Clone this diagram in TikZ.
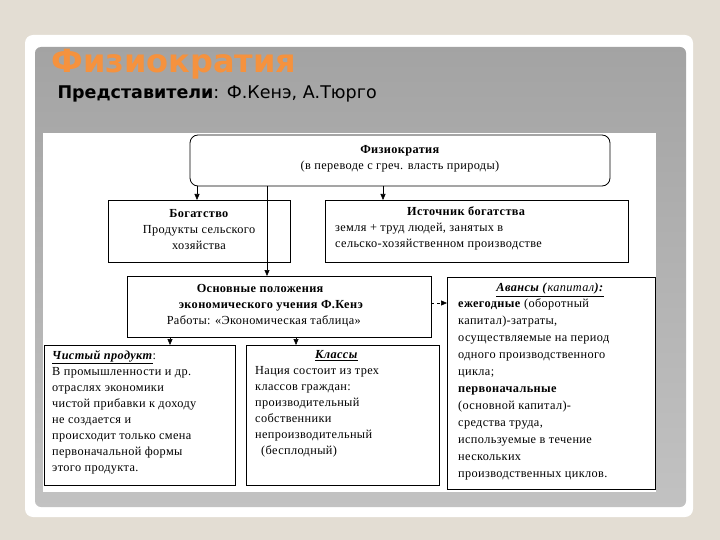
\documentclass[tikz,border=0pt]{standalone}
\usepackage{fontspec}
\setmainfont{Liberation Serif}[LetterSpace=3]
\newfontfamily\ttl{DejaVu Sans}
\usetikzlibrary{arrows.meta}
\definecolor{bg}{HTML}{E3DDD3}
\definecolor{org}{HTML}{F5923E}
\begin{document}
\begin{tikzpicture}[x=1pt,y=-1pt,
  box/.style={draw=black,line width=0.8pt,fill=white,inner sep=0pt},
  arr/.style={-{Triangle[length=6pt,width=5pt]},line width=0.6pt},
  txt/.style={font=\fontsize{12.3}{16}\selectfont,align=left,anchor=north west,inner sep=0pt}]
\useasboundingbox (0,0) rectangle (720,540);
\fill[bg] (0,0) rectangle (720,540);
\fill[white,rounded corners=8pt] (25,35) rectangle (693,517);
\shade[top color=black!36,bottom color=black!24,rounded corners=6pt] (35,47) rectangle (686,507);
\fill[white] (43,133) rectangle (656,492);
\node[font=\ttl\bfseries\fontsize{32}{34}\selectfont,text=org,anchor=west] (t) at (48,64) {Физиократия};
\node[font=\ttl\fontsize{17.5}{20}\selectfont,anchor=west] (r) at (54,94) {\textbf{Представители}: Ф.Кенэ, А.Тюрго};
% boxes
\draw[box,rounded corners=8pt] (190,135) rectangle (610,186);
\node[font=\fontsize{12.3}{16}\selectfont,align=center] (f) at (400,159) {\textbf{Физиократия}\\(в переводе с греч. власть природы)};
\coordinate (fa) at (197,186); \coordinate (fb) at (383,186); \coordinate (fc) at (267,186);
\draw[box] (108,200) rectangle (290,262);
\node[font=\fontsize{12.3}{16}\selectfont,align=center] (b) at (199,230) {\textbf{Богатство}\\Продукты сельского\\хозяйства};
\coordinate (ba) at (197,200);
\draw[box] (325,200) rectangle (628,262);
\node[txt] (i) at (335,206) {\hspace*{72pt}\textbf{Источник богатства}\\земля + труд людей, занятых в\\сельско-хозяйственном производстве};
\coordinate (ia) at (383,200);
\draw[box] (127,276) rectangle (431,337);
\node[font=\fontsize{12.3}{16}\selectfont,align=left] (o) at (265,306) {\hspace*{30pt}\textbf{Основные положения}\\\hspace*{12pt}\textbf{экономического учения Ф.Кенэ}\\Работы: «Экономическая таблица»};
\coordinate (oa) at (267,276); \coordinate (ob) at (170,337); \coordinate (oc) at (296,337); \coordinate (od) at (431,303);
\draw[box] (447,277) rectangle (655,489);
\coordinate (aa) at (447,303);
\node[font=\fontsize{12.3}{14}\selectfont] (ah) at (550,290) {\underline{\textbf{\textit{Авансы (}}\textit{капитал}\textbf{\textit{):}}}};
\node[txt,font=\fontsize{12.3}{17}\selectfont] (at) at (458,298) {\textbf{ежегодные} (оборотный\\капитал)-затраты,\\осуществляемые на период\\одного производственного\\цикла;\\\textbf{первоначальные}\\(основной капитал)-\\средства труда,\\используемые в течение\\нескольких\\производственных циклов.};
\draw[box] (44,345) rectangle (235,485);
\coordinate (ca) at (170,345);
\node[txt] (c) at (52,350) {\underline{\textbf{\textit{Чистый продукт}}}:\\В промышленности и др.\\отраслях экономики\\чистой прибавки к доходу\\не создается и\\происходит только смена\\первоначальной формы\\этого продукта.};
\draw[box] (246,345) rectangle (439,485);
\coordinate (ka) at (296,345);
\node[txt] (k) at (255,350) {\hspace*{60pt}\underline{\textbf{\textit{Классы}}}\\Нация состоит из трех\\классов граждан:\\производительный\\собственники\\непроизводительный\\\hspace*{6pt}(бесплодный)};
% connectors
\draw[arr] (fa) -- (ba);
\draw[arr] (fb) -- (ia);
\draw[arr] (fc) -- (oa);
\draw[arr] (ob) -- (ca);
\draw[arr] (oc) -- (ka);
\draw[arr,dashed] (od) -- (aa);
\end{tikzpicture}
\end{document}
